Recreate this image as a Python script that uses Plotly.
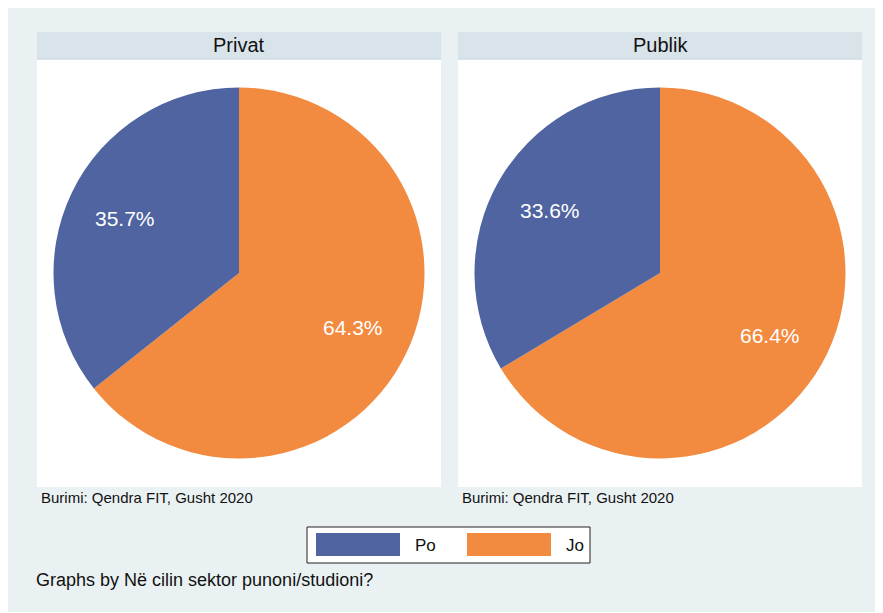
import math
import plotly.graph_objects as go

W, H = 883, 613
OFF = 8  # margen del body de la pagina

# datos
sectores = ["Privat", "Publik"]
etiquetas = ["Po", "Jo"]
valores_privat = [35.7, 64.3]
valores_publik = [33.6, 66.4]
colores = ["#4F64A0", "#F28A3F"]
nota = "Burimi: Qendra FIT, Gusht 2020"
pie_nota = "Graphs by Në cilin sektor punoni/studioni?"

FONT = "Liberation Sans, Arial, sans-serif"
BG = "#EAF1F3"
STRIP = "#D8E4EA"

FW, FH = W - OFF, H - OFF


def px(x):
    return max(x - OFF, 0) / FW


def py(y):
    return 1 - max(y - OFF, 0) / FH


fig = go.Figure()
shapes = []
annotations = []

# fondo general
shapes.append(dict(type="rect", xref="paper", yref="paper",
                   x0=px(6), x1=1, y0=py(612), y1=py(4),
                   fillcolor=BG, line_width=0, layer="below"))

paneles = [(37, valores_privat), (458, valores_publik)]
for (x0, vals), nombre in zip(paneles, sectores):
    x1 = x0 + 404
    # cabecera
    shapes.append(dict(type="rect", xref="paper", yref="paper",
                       x0=px(x0), x1=px(x1), y0=py(59), y1=py(32),
                       fillcolor=STRIP, line_width=0, layer="below"))
    shapes.append(dict(type="line", xref="paper", yref="paper",
                       x0=px(x0), x1=px(x1), y0=py(59), y1=py(59),
                       line=dict(color="#CCDAE1", width=1), layer="below"))
    # area blanca
    shapes.append(dict(type="rect", xref="paper", yref="paper",
                       x0=px(x0), x1=px(x1), y0=py(487), y1=py(60),
                       fillcolor="white", line_width=0, layer="below"))
    annotations.append(dict(text=nombre, xref="paper", yref="paper",
                            x=px(x0 + 202), y=py(45), showarrow=False,
                            xanchor="center", yanchor="middle",
                            font=dict(family=FONT, size=20, color="#111111")))
    annotations.append(dict(text=nota, xref="paper", yref="paper",
                            x=px(x0 + 2), y=py(497), showarrow=False,
                            xanchor="left", yanchor="middle",
                            font=dict(family=FONT, size=15, color="#111111")))

    cx, cy, d = x0 + 202, 273, 371
    # orden invertido: Jo arranca a las 12 en sentido horario, Po queda a la izquierda
    fig.add_trace(go.Pie(
        labels=etiquetas[::-1],
        values=vals[::-1],
        sort=False,
        direction="clockwise",
        rotation=0,
        marker=dict(colors=colores[::-1], line=dict(width=0)),
        textinfo="none",
        domain=dict(x=[px(cx - d / 2), px(cx + d / 2)],
                    y=[py(cy + d / 2), py(cy - d / 2)]),
        showlegend=False,
        hoverinfo="label+percent",
    ))

    # etiquetas de porcentaje a 0.68 del radio, en el angulo medio de cada sector
    total = sum(vals)
    acum = 0
    for v in vals:
        mid = (acum + v / 2) / total * 2 * math.pi
        acum += v
        r = 0.68 * d / 2
        lx = cx - r * math.sin(mid)
        ly = cy - r * math.cos(mid)
        annotations.append(dict(text=f"{v / total * 100:.1f}%", xref="paper", yref="paper",
                                x=px(lx), y=py(ly), showarrow=False,
                                xanchor="center", yanchor="middle",
                                font=dict(family=FONT, size=21, color="white")))

# leyenda manual
shapes.append(dict(type="rect", xref="paper", yref="paper",
                   x0=px(307), x1=px(590), y0=py(563), y1=py(527),
                   fillcolor="white", line=dict(color="#222222", width=1)))
for i, (lab, col) in enumerate(zip(etiquetas, colores)):
    sx = 316 + i * 151
    shapes.append(dict(type="rect", xref="paper", yref="paper",
                       x0=px(sx), x1=px(sx + 84), y0=py(556), y1=py(533),
                       fillcolor=col, line_width=0))
    annotations.append(dict(text=lab, xref="paper", yref="paper",
                            x=px(sx + 97), y=py(545), showarrow=False,
                            xanchor="left", yanchor="middle",
                            font=dict(family=FONT, size=17, color="#111111")))

annotations.append(dict(text=pie_nota, xref="paper", yref="paper",
                        x=px(34), y=py(580), showarrow=False,
                        xanchor="left", yanchor="middle",
                        font=dict(family=FONT, size=18, color="#111111")))

fig.update_layout(
    width=FW, height=FH,
    margin=dict(l=0, r=0, t=0, b=0),
    paper_bgcolor="white",
    plot_bgcolor="white",
    shapes=shapes,
    annotations=annotations,
    showlegend=False,
)

fig.write_html("out.html")
